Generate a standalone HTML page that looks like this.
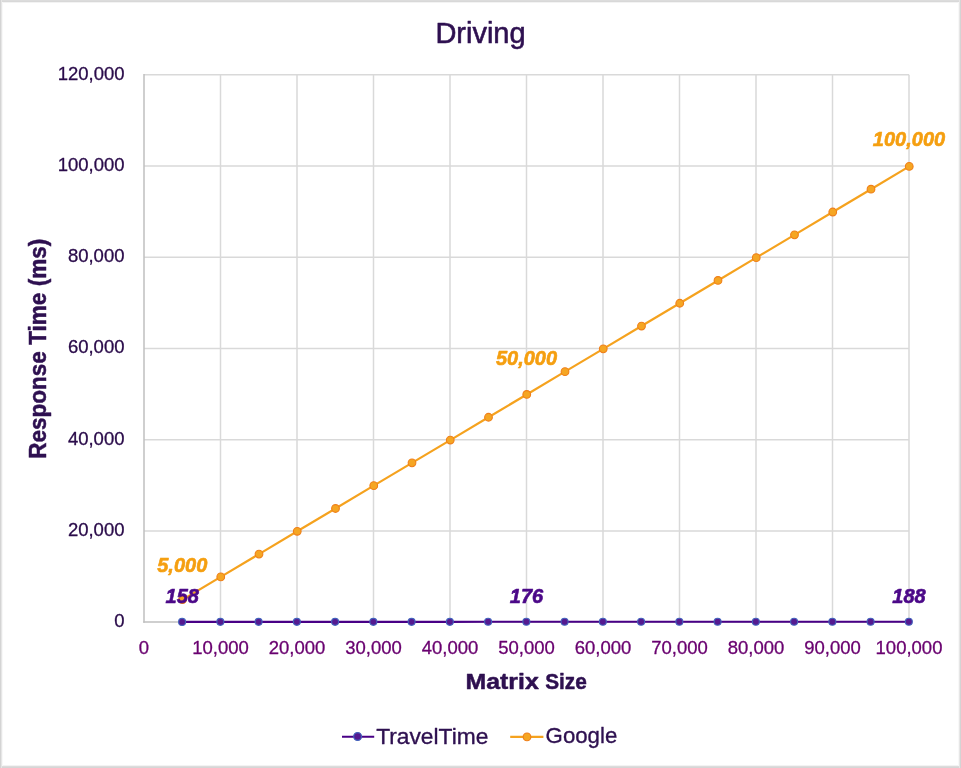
<!DOCTYPE html><html><head><meta charset="utf-8"><style>html,body{margin:0;padding:0;background:#fff;width:961px;height:768px;overflow:hidden}svg{display:block;will-change:transform}text{font-family:"Liberation Sans",sans-serif}</style></head><body>
<svg width="961" height="768" viewBox="0 0 961 768">
<rect x="0" y="0" width="961" height="768" fill="#fff"/>
<g shape-rendering="crispEdges"><rect x="0" y="2" width="961" height="1" fill="#f3f3f3"/><rect x="0" y="765" width="961" height="1" fill="#f3f3f3"/><rect x="2" y="0" width="1" height="768" fill="#f8f8f8"/><rect x="958" y="0" width="1" height="768" fill="#f8f8f8"/><rect x="0" y="0" width="961" height="1" fill="#dcdcdc"/><rect x="0" y="1" width="961" height="1" fill="#d8d8d8"/><rect x="0" y="766" width="961" height="1" fill="#dcdcdc"/><rect x="0" y="767" width="961" height="1" fill="#d6d6d6"/><rect x="1" y="0" width="1" height="768" fill="#e6e6e6"/><rect x="0" y="0" width="1" height="768" fill="#d4d4d4"/><rect x="959" y="0" width="1" height="768" fill="#e6e6e6"/><rect x="960" y="0" width="1" height="768" fill="#d4d4d4"/></g>
<text x="480.50" y="42.60" text-anchor="middle" font-size="29" fill="#2e1050" stroke="#2e1050" stroke-width="0.6" stroke-linejoin="round">Driving</text>
<line x1="144.0" y1="530.88" x2="909.0" y2="530.88" stroke="#d9d9d9" stroke-width="1.5"/>
<line x1="144.0" y1="439.67" x2="909.0" y2="439.67" stroke="#d9d9d9" stroke-width="1.5"/>
<line x1="144.0" y1="348.45" x2="909.0" y2="348.45" stroke="#d9d9d9" stroke-width="1.5"/>
<line x1="144.0" y1="257.23" x2="909.0" y2="257.23" stroke="#d9d9d9" stroke-width="1.5"/>
<line x1="144.0" y1="166.02" x2="909.0" y2="166.02" stroke="#d9d9d9" stroke-width="1.5"/>
<line x1="144.0" y1="74.80" x2="909.0" y2="74.80" stroke="#d9d9d9" stroke-width="1.5"/>
<line x1="220.50" y1="74.8" x2="220.50" y2="622.1" stroke="#d9d9d9" stroke-width="1.5"/>
<line x1="297.00" y1="74.8" x2="297.00" y2="622.1" stroke="#d9d9d9" stroke-width="1.5"/>
<line x1="373.50" y1="74.8" x2="373.50" y2="622.1" stroke="#d9d9d9" stroke-width="1.5"/>
<line x1="450.00" y1="74.8" x2="450.00" y2="622.1" stroke="#d9d9d9" stroke-width="1.5"/>
<line x1="526.50" y1="74.8" x2="526.50" y2="622.1" stroke="#d9d9d9" stroke-width="1.5"/>
<line x1="603.00" y1="74.8" x2="603.00" y2="622.1" stroke="#d9d9d9" stroke-width="1.5"/>
<line x1="679.50" y1="74.8" x2="679.50" y2="622.1" stroke="#d9d9d9" stroke-width="1.5"/>
<line x1="756.00" y1="74.8" x2="756.00" y2="622.1" stroke="#d9d9d9" stroke-width="1.5"/>
<line x1="832.50" y1="74.8" x2="832.50" y2="622.1" stroke="#d9d9d9" stroke-width="1.5"/>
<line x1="909.00" y1="74.8" x2="909.00" y2="622.1" stroke="#d9d9d9" stroke-width="1.5"/>
<line x1="144.0" y1="74.05" x2="144.0" y2="622.85" stroke="#bfbfbf" stroke-width="1.5"/>
<line x1="143.25" y1="622.1" x2="909.0" y2="622.1" stroke="#bfbfbf" stroke-width="1.5"/>
<text x="124.50" y="627.00" text-anchor="end" font-size="18.5" fill="#2a0b4a" stroke="#2a0b4a" stroke-width="0.3" stroke-linejoin="round">0</text>
<text x="124.50" y="535.78" text-anchor="end" font-size="18.5" fill="#2a0b4a" stroke="#2a0b4a" stroke-width="0.3" stroke-linejoin="round">20,000</text>
<text x="124.50" y="444.57" text-anchor="end" font-size="18.5" fill="#2a0b4a" stroke="#2a0b4a" stroke-width="0.3" stroke-linejoin="round">40,000</text>
<text x="124.50" y="353.35" text-anchor="end" font-size="18.5" fill="#2a0b4a" stroke="#2a0b4a" stroke-width="0.3" stroke-linejoin="round">60,000</text>
<text x="124.50" y="262.13" text-anchor="end" font-size="18.5" fill="#2a0b4a" stroke="#2a0b4a" stroke-width="0.3" stroke-linejoin="round">80,000</text>
<text x="124.50" y="170.92" text-anchor="end" font-size="18.5" fill="#2a0b4a" stroke="#2a0b4a" stroke-width="0.3" stroke-linejoin="round">100,000</text>
<text x="124.50" y="79.70" text-anchor="end" font-size="18.5" fill="#2a0b4a" stroke="#2a0b4a" stroke-width="0.3" stroke-linejoin="round">120,000</text>
<text x="144.00" y="654.00" text-anchor="middle" font-size="18.5" fill="#69006f" stroke="#69006f" stroke-width="0.3" stroke-linejoin="round">0</text>
<text x="220.50" y="654.00" text-anchor="middle" font-size="18.5" fill="#69006f" stroke="#69006f" stroke-width="0.3" stroke-linejoin="round">10,000</text>
<text x="297.00" y="654.00" text-anchor="middle" font-size="18.5" fill="#69006f" stroke="#69006f" stroke-width="0.3" stroke-linejoin="round">20,000</text>
<text x="373.50" y="654.00" text-anchor="middle" font-size="18.5" fill="#69006f" stroke="#69006f" stroke-width="0.3" stroke-linejoin="round">30,000</text>
<text x="450.00" y="654.00" text-anchor="middle" font-size="18.5" fill="#69006f" stroke="#69006f" stroke-width="0.3" stroke-linejoin="round">40,000</text>
<text x="526.50" y="654.00" text-anchor="middle" font-size="18.5" fill="#69006f" stroke="#69006f" stroke-width="0.3" stroke-linejoin="round">50,000</text>
<text x="603.00" y="654.00" text-anchor="middle" font-size="18.5" fill="#69006f" stroke="#69006f" stroke-width="0.3" stroke-linejoin="round">60,000</text>
<text x="679.50" y="654.00" text-anchor="middle" font-size="18.5" fill="#69006f" stroke="#69006f" stroke-width="0.3" stroke-linejoin="round">70,000</text>
<text x="756.00" y="654.00" text-anchor="middle" font-size="18.5" fill="#69006f" stroke="#69006f" stroke-width="0.3" stroke-linejoin="round">80,000</text>
<text x="832.50" y="654.00" text-anchor="middle" font-size="18.5" fill="#69006f" stroke="#69006f" stroke-width="0.3" stroke-linejoin="round">90,000</text>
<text x="909.00" y="654.00" text-anchor="middle" font-size="18.5" fill="#69006f" stroke="#69006f" stroke-width="0.3" stroke-linejoin="round">100,000</text>
<text x="465.50" y="689.00" font-size="22.6" font-weight="bold" fill="#2e1050" stroke="#2e1050" stroke-width="0.5" stroke-linejoin="round" textLength="73.2" lengthAdjust="spacingAndGlyphs">Matrix</text>
<text x="545.20" y="689.00" font-size="22.6" font-weight="bold" fill="#2e1050" stroke="#2e1050" stroke-width="0.5" stroke-linejoin="round" textLength="41.6" lengthAdjust="spacingAndGlyphs">Size</text>
<g transform="translate(46 348.8) rotate(-90)">
<text transform="translate(0.00 0.00) scale(0.94 1)" x="0.00" y="0.00" text-anchor="middle" font-size="24" font-weight="bold" fill="#2e1050" stroke="#2e1050" stroke-width="0.5" stroke-linejoin="round">Response Time (ms)</text>
</g>
<polyline points="182.50,599.70 220.75,576.89 259.00,554.09 297.25,531.28 335.50,508.48 373.75,485.67 412.00,462.87 450.25,440.07 488.50,417.26 526.75,394.46 565.00,371.65 603.25,348.85 641.50,326.05 679.75,303.24 718.00,280.44 756.25,257.63 794.50,234.83 832.75,212.02 871.00,189.22 909.25,166.42" fill="none" stroke="#f5a21e" stroke-width="2.2" stroke-linejoin="round"/>
<circle cx="182.50" cy="599.70" r="3.85" fill="#f5a623" stroke="#ef7f1a" stroke-width="1.1"/>
<circle cx="220.75" cy="576.89" r="3.85" fill="#f5a623" stroke="#ef7f1a" stroke-width="1.1"/>
<circle cx="259.00" cy="554.09" r="3.85" fill="#f5a623" stroke="#ef7f1a" stroke-width="1.1"/>
<circle cx="297.25" cy="531.28" r="3.85" fill="#f5a623" stroke="#ef7f1a" stroke-width="1.1"/>
<circle cx="335.50" cy="508.48" r="3.85" fill="#f5a623" stroke="#ef7f1a" stroke-width="1.1"/>
<circle cx="373.75" cy="485.67" r="3.85" fill="#f5a623" stroke="#ef7f1a" stroke-width="1.1"/>
<circle cx="412.00" cy="462.87" r="3.85" fill="#f5a623" stroke="#ef7f1a" stroke-width="1.1"/>
<circle cx="450.25" cy="440.07" r="3.85" fill="#f5a623" stroke="#ef7f1a" stroke-width="1.1"/>
<circle cx="488.50" cy="417.26" r="3.85" fill="#f5a623" stroke="#ef7f1a" stroke-width="1.1"/>
<circle cx="526.75" cy="394.46" r="3.85" fill="#f5a623" stroke="#ef7f1a" stroke-width="1.1"/>
<circle cx="565.00" cy="371.65" r="3.85" fill="#f5a623" stroke="#ef7f1a" stroke-width="1.1"/>
<circle cx="603.25" cy="348.85" r="3.85" fill="#f5a623" stroke="#ef7f1a" stroke-width="1.1"/>
<circle cx="641.50" cy="326.05" r="3.85" fill="#f5a623" stroke="#ef7f1a" stroke-width="1.1"/>
<circle cx="679.75" cy="303.24" r="3.85" fill="#f5a623" stroke="#ef7f1a" stroke-width="1.1"/>
<circle cx="718.00" cy="280.44" r="3.85" fill="#f5a623" stroke="#ef7f1a" stroke-width="1.1"/>
<circle cx="756.25" cy="257.63" r="3.85" fill="#f5a623" stroke="#ef7f1a" stroke-width="1.1"/>
<circle cx="794.50" cy="234.83" r="3.85" fill="#f5a623" stroke="#ef7f1a" stroke-width="1.1"/>
<circle cx="832.75" cy="212.02" r="3.85" fill="#f5a623" stroke="#ef7f1a" stroke-width="1.1"/>
<circle cx="871.00" cy="189.22" r="3.85" fill="#f5a623" stroke="#ef7f1a" stroke-width="1.1"/>
<circle cx="909.25" cy="166.42" r="3.85" fill="#f5a623" stroke="#ef7f1a" stroke-width="1.1"/>
<polyline points="182.10,621.88 220.35,621.87 258.60,621.86 296.85,621.86 335.10,621.85 373.35,621.84 411.60,621.84 449.85,621.83 488.10,621.82 526.35,621.81 564.60,621.81 602.85,621.80 641.10,621.79 679.35,621.79 717.60,621.78 755.85,621.77 794.10,621.76 832.35,621.76 870.60,621.75 908.85,621.74" fill="none" stroke="#480086" stroke-width="2.1" stroke-linejoin="round"/>
<circle cx="182.10" cy="621.88" r="3.5" fill="#551a90" stroke="#4262bc" stroke-width="1.1"/>
<circle cx="220.35" cy="621.87" r="3.5" fill="#551a90" stroke="#4262bc" stroke-width="1.1"/>
<circle cx="258.60" cy="621.86" r="3.5" fill="#551a90" stroke="#4262bc" stroke-width="1.1"/>
<circle cx="296.85" cy="621.86" r="3.5" fill="#551a90" stroke="#4262bc" stroke-width="1.1"/>
<circle cx="335.10" cy="621.85" r="3.5" fill="#551a90" stroke="#4262bc" stroke-width="1.1"/>
<circle cx="373.35" cy="621.84" r="3.5" fill="#551a90" stroke="#4262bc" stroke-width="1.1"/>
<circle cx="411.60" cy="621.84" r="3.5" fill="#551a90" stroke="#4262bc" stroke-width="1.1"/>
<circle cx="449.85" cy="621.83" r="3.5" fill="#551a90" stroke="#4262bc" stroke-width="1.1"/>
<circle cx="488.10" cy="621.82" r="3.5" fill="#551a90" stroke="#4262bc" stroke-width="1.1"/>
<circle cx="526.35" cy="621.81" r="3.5" fill="#551a90" stroke="#4262bc" stroke-width="1.1"/>
<circle cx="564.60" cy="621.81" r="3.5" fill="#551a90" stroke="#4262bc" stroke-width="1.1"/>
<circle cx="602.85" cy="621.80" r="3.5" fill="#551a90" stroke="#4262bc" stroke-width="1.1"/>
<circle cx="641.10" cy="621.79" r="3.5" fill="#551a90" stroke="#4262bc" stroke-width="1.1"/>
<circle cx="679.35" cy="621.79" r="3.5" fill="#551a90" stroke="#4262bc" stroke-width="1.1"/>
<circle cx="717.60" cy="621.78" r="3.5" fill="#551a90" stroke="#4262bc" stroke-width="1.1"/>
<circle cx="755.85" cy="621.77" r="3.5" fill="#551a90" stroke="#4262bc" stroke-width="1.1"/>
<circle cx="794.10" cy="621.76" r="3.5" fill="#551a90" stroke="#4262bc" stroke-width="1.1"/>
<circle cx="832.35" cy="621.76" r="3.5" fill="#551a90" stroke="#4262bc" stroke-width="1.1"/>
<circle cx="870.60" cy="621.75" r="3.5" fill="#551a90" stroke="#4262bc" stroke-width="1.1"/>
<circle cx="908.85" cy="621.74" r="3.5" fill="#551a90" stroke="#4262bc" stroke-width="1.1"/>
<text x="182.25" y="572.00" text-anchor="middle" font-size="20" font-weight="bold" font-style="italic" fill="#f59f10" stroke="#f59f10" stroke-width="0.6" stroke-linejoin="round">5,000</text>
<text x="526.50" y="365.10" text-anchor="middle" font-size="20" font-weight="bold" font-style="italic" fill="#f59f10" stroke="#f59f10" stroke-width="0.6" stroke-linejoin="round">50,000</text>
<text x="909.00" y="146.00" text-anchor="middle" font-size="20" font-weight="bold" font-style="italic" fill="#f59f10" stroke="#f59f10" stroke-width="0.6" stroke-linejoin="round">100,000</text>
<text x="182.25" y="603.30" text-anchor="middle" font-size="20" font-weight="bold" font-style="italic" fill="#4b0888" stroke="#4b0888" stroke-width="0.6" stroke-linejoin="round">158</text>
<text x="526.50" y="603.30" text-anchor="middle" font-size="20" font-weight="bold" font-style="italic" fill="#4b0888" stroke="#4b0888" stroke-width="0.6" stroke-linejoin="round">176</text>
<text x="909.00" y="603.30" text-anchor="middle" font-size="20" font-weight="bold" font-style="italic" fill="#4b0888" stroke="#4b0888" stroke-width="0.6" stroke-linejoin="round">188</text>
<line x1="342" y1="736.7" x2="374.2" y2="736.7" stroke="#480086" stroke-width="2.1"/>
<circle cx="357.6" cy="736.5" r="3.9" fill="#551a90" stroke="#4262bc" stroke-width="1.2"/>
<text transform="translate(376.20 743.80) scale(1.035 1)" x="0.00" y="0.00" font-size="22" fill="#2e1050" stroke="#2e1050" stroke-width="0.35" stroke-linejoin="round">TravelTime</text>
<line x1="510.2" y1="736.9" x2="543.4" y2="736.9" stroke="#f5a21e" stroke-width="2.2"/>
<circle cx="527" cy="736.9" r="3.85" fill="#f5a623" stroke="#ef7f1a" stroke-width="1.1"/>
<text transform="translate(545.60 742.90) scale(0.975 1)" x="0.00" y="0.00" font-size="22.8" fill="#2e1050" stroke="#2e1050" stroke-width="0.35" stroke-linejoin="round">Google</text>
</svg></body></html>
